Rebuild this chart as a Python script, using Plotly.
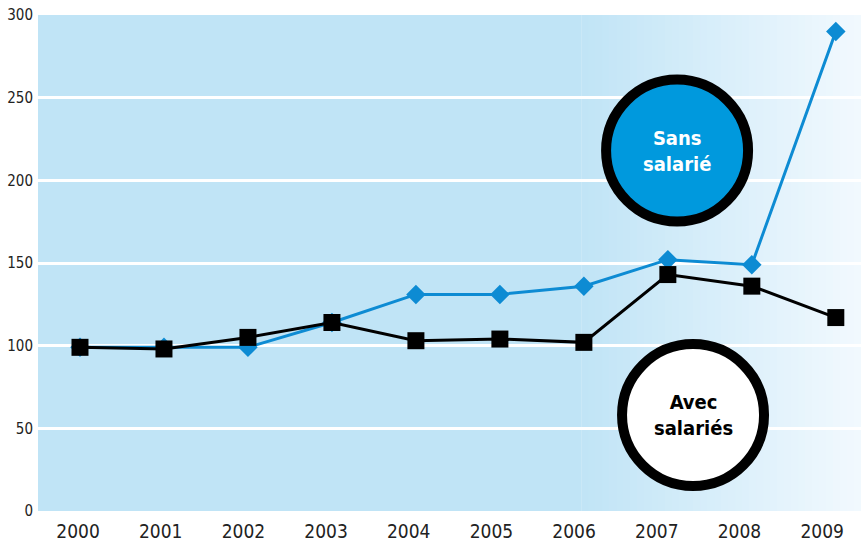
import plotly.graph_objects as go

# data
years = ["2000", "2001", "2002", "2003", "2004", "2005", "2006", "2007", "2008", "2009"]
sans_salarie = [99, 99, 99, 114, 131, 131, 136, 152, 149, 290]
avec_salaries = [99, 98, 105, 114, 103, 104, 102, 143, 136, 117]
y_ticks = [0, 50, 100, 150, 200, 250, 300]

BLUE = "#0d8bd3"
BG = (192, 228, 246)
END = (242, 249, 254)
FONT = "Liberation Sans Narrow, DejaVu Sans Condensed, Arial Narrow, sans-serif"

xs = list(range(len(years)))

fig = go.Figure()
fig.add_trace(go.Scatter(x=xs, y=sans_salarie, mode="lines+markers",
                         line=dict(color=BLUE, width=3),
                         marker=dict(symbol="diamond", size=15, color=BLUE),
                         showlegend=False))
fig.add_trace(go.Scatter(x=xs, y=avec_salaries, mode="lines+markers",
                         line=dict(color="black", width=3),
                         marker=dict(symbol="square", size=17, color="black"),
                         showlegend=False))
# invisible trace so the (slightly differently spaced) year label axis gets drawn
fig.add_trace(go.Scatter(x=xs, y=avec_salaries, xaxis="x2", mode="markers",
                         marker=dict(opacity=0), hoverinfo="skip", showlegend=False))

# background: flat light blue, fading to white on the right
shapes = [dict(type="rect", xref="x domain", yref="y domain", x0=0, x1=0.66, y0=0, y1=1,
               fillcolor="rgb(%d,%d,%d)" % BG, line_width=0, layer="below")]
n = 40
for i in range(n):
    t = (i + 0.5) / n
    c = tuple(int(round(b + (e - b) * t)) for b, e in zip(BG, END))
    shapes.append(dict(type="rect", xref="x domain", yref="y domain",
                       x0=0.66 + 0.34 * i / n, x1=0.66 + 0.34 * (i + 1) / n + 0.002,
                       y0=0, y1=1, fillcolor="rgb(%d,%d,%d)" % c, line_width=0, layer="below"))

# the two label badges
for cx, cy, fill in [(7.11, 218, "#0099dd"), (7.30, 58, "white")]:
    shapes.append(dict(type="circle", xref="x", yref="y", xsizemode="pixel", ysizemode="pixel",
                       xanchor=cx, yanchor=cy, x0=-71, x1=71, y0=-71, y1=71,
                       fillcolor=fill, line=dict(color="black", width=10), layer="above"))

annotations = [
    dict(x=7.11, y=218, xref="x", yref="y", text="<b>Sans<br>salarié</b>", showarrow=False,
         font=dict(family=FONT, size=20, color="white")),
    dict(x=7.30, y=58, xref="x", yref="y", text="<b>Avec<br>salariés</b>", showarrow=False,
         font=dict(family=FONT, size=20, color="black")),
]

fig.update_layout(
    width=861, height=544,
    margin=dict(l=38, r=0, t=15, b=33),
    paper_bgcolor="white", plot_bgcolor="rgba(0,0,0,0)",
    shapes=shapes, annotations=annotations,
    font=dict(family=FONT, color="#222"),
    xaxis=dict(range=[-0.5, 9.3], showticklabels=False, showgrid=False,
               zeroline=False, showline=False, ticks="", automargin=False),
    xaxis2=dict(range=[-0.484, 9.47], overlaying="x", anchor="y", side="bottom",
                tickvals=xs, ticktext=years, showgrid=False, zeroline=False,
                showline=False, ticks="", tickfont=dict(size=19), automargin=False,
                ticklabelstandoff=7, ticklabeloverflow="allow"),
    yaxis=dict(range=[0, 300], tickvals=y_ticks, showgrid=True, gridcolor="white",
               gridwidth=3, zeroline=False, showline=False, ticks="",
               tickfont=dict(size=15), automargin=False, ticklabelstandoff=4,
               ticklabeloverflow="allow"),
)

# drop the browser's default 8px body margin so the figure sits at the page corner
fig.write_html("out.html", config={"displayModeBar": False},
               post_script="document.body.style.margin='0';")
